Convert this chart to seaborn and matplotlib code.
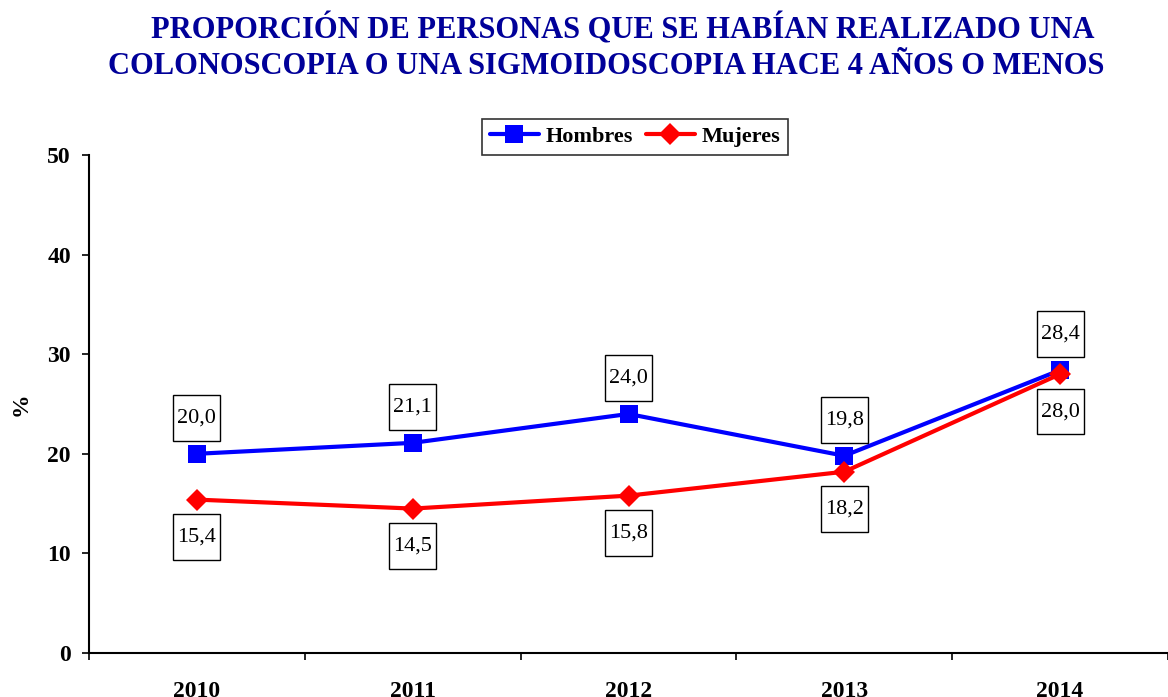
import numpy as np
import pandas as pd
import matplotlib
matplotlib.use("Agg")
import matplotlib.pyplot as plt
from matplotlib.path import Path
import seaborn as sns

YEARS = ["2010", "2011", "2012", "2013", "2014"]
HOMBRES = [20.0, 21.1, 24.0, 19.8, 28.4]
MUJERES = [15.4, 14.5, 15.8, 18.2, 28.0]
SERIES = ["Hombres", "Mujeres"]
PAL = {"Hombres": "#0000ff", "Mujeres": "#ff0000"}

TITLE_1 = "PROPORCIÓN DE PERSONAS QUE SE HABÍAN REALIZADO UNA"
TITLE_2 = "COLONOSCOPIA O UNA SIGMOIDOSCOPIA HACE 4 AÑOS O MENOS"

sns.set_style("white")
plt.rcParams["font.family"] = ["Liberation Serif", "DejaVu Serif"]
plt.rcParams["text.color"] = "black"
plt.rcParams["xtick.color"] = "black"
plt.rcParams["ytick.color"] = "black"
plt.rcParams["axes.labelcolor"] = "black"


def caja(x0, y0, width, height, mutation_size):
    # caja rectangular con mas margen vertical que horizontal (estilo Excel)
    px = 0.18 * mutation_size
    py = 0.6 * mutation_size
    x0, y0 = x0 - px, y0 - py
    x1, y1 = x0 + width + 2 * px, y0 + height + 2 * py
    return Path([(x0, y0), (x1, y0), (x1, y1), (x0, y1), (x0, y0)], closed=True)


df = pd.DataFrame({
    "x": list(range(len(YEARS))) * 2,
    "valor": HOMBRES + MUJERES,
    "serie": ["Hombres"] * len(YEARS) + ["Mujeres"] * len(YEARS),
})

fig = plt.figure(figsize=(11.68, 6.97), dpi=100)
ax = fig.add_axes([89 / 1168, 44 / 697, 1079 / 1168, 498 / 697])

sns.lineplot(data=df, x="x", y="valor", hue="serie", style="serie",
             hue_order=SERIES, style_order=SERIES, palette=PAL,
             markers={"Hombres": "s", "Mujeres": "D"},
             dashes={"Hombres": "", "Mujeres": ""},
             markersize=13, linewidth=3, markeredgewidth=0, ax=ax)
for ln in ax.lines:
    if ln.get_marker() == "D":
        ln.set_markersize(11)

box = dict(boxstyle=caja, fc="white", ec="black", lw=1)
for i, v in enumerate(HOMBRES):
    ax.annotate(f"{v:.1f}".replace(".", ","), (i, v), xytext=(0, 26),
                textcoords="offset points", ha="center", va="center",
                fontsize=16, bbox=box, zorder=5)
for i, v in enumerate(MUJERES):
    ax.annotate(f"{v:.1f}".replace(".", ","), (i, v), xytext=(0, -27),
                textcoords="offset points", ha="center", va="center",
                fontsize=16, bbox=box, zorder=5)

ax.set_ylim(0, 50)
ax.set_yticks(range(0, 51, 10))
ax.set_xlim(-0.5, 4.48)
ax.set_xticks(np.arange(-0.5, 4.6, 1))
ax.set_xticklabels([])
ax.set_xticks(range(len(YEARS)), minor=True)
ax.set_xticklabels(YEARS, minor=True)
ax.tick_params(axis="x", which="minor", bottom=True, length=0, pad=20, labelsize=17)
ax.tick_params(axis="x", which="major", bottom=True, direction="out", length=5, width=1.2)
ax.tick_params(axis="y", left=True, direction="out", length=5, width=1.2, labelsize=17, pad=8)
for lab in ax.get_xticklabels(minor=True) + ax.get_yticklabels():
    lab.set_fontweight("bold")

sns.despine(ax=ax, top=True, right=True)
for s in ("left", "bottom"):
    ax.spines[s].set_linewidth(1.5)
    ax.spines[s].set_color("black")

ax.set_xlabel("")
ax.set_ylabel("%", fontsize=17, fontweight="bold")
ax.yaxis.set_label_coords(-0.053, 0.5)

leg = ax.legend(loc="lower center", bbox_to_anchor=(0.506, 1.0), ncol=2,
                frameon=True, fancybox=False, edgecolor="black",
                prop={"weight": "bold", "size": 16}, handlelength=2.2,
                columnspacing=0.6, handletextpad=0.3, borderpad=0.35,
                borderaxespad=0.0)
leg.get_frame().set_linewidth(1.2)

fig.text(623 / 1168, 1 - 38 / 697, TITLE_1, ha="center", va="baseline", color="#000099",
         fontsize=22, fontweight="bold")
fig.text(606 / 1168, 1 - 74 / 697, TITLE_2, ha="center", va="baseline", color="#000099",
         fontsize=22, fontweight="bold")

fig.savefig("out.png", dpi=100)
